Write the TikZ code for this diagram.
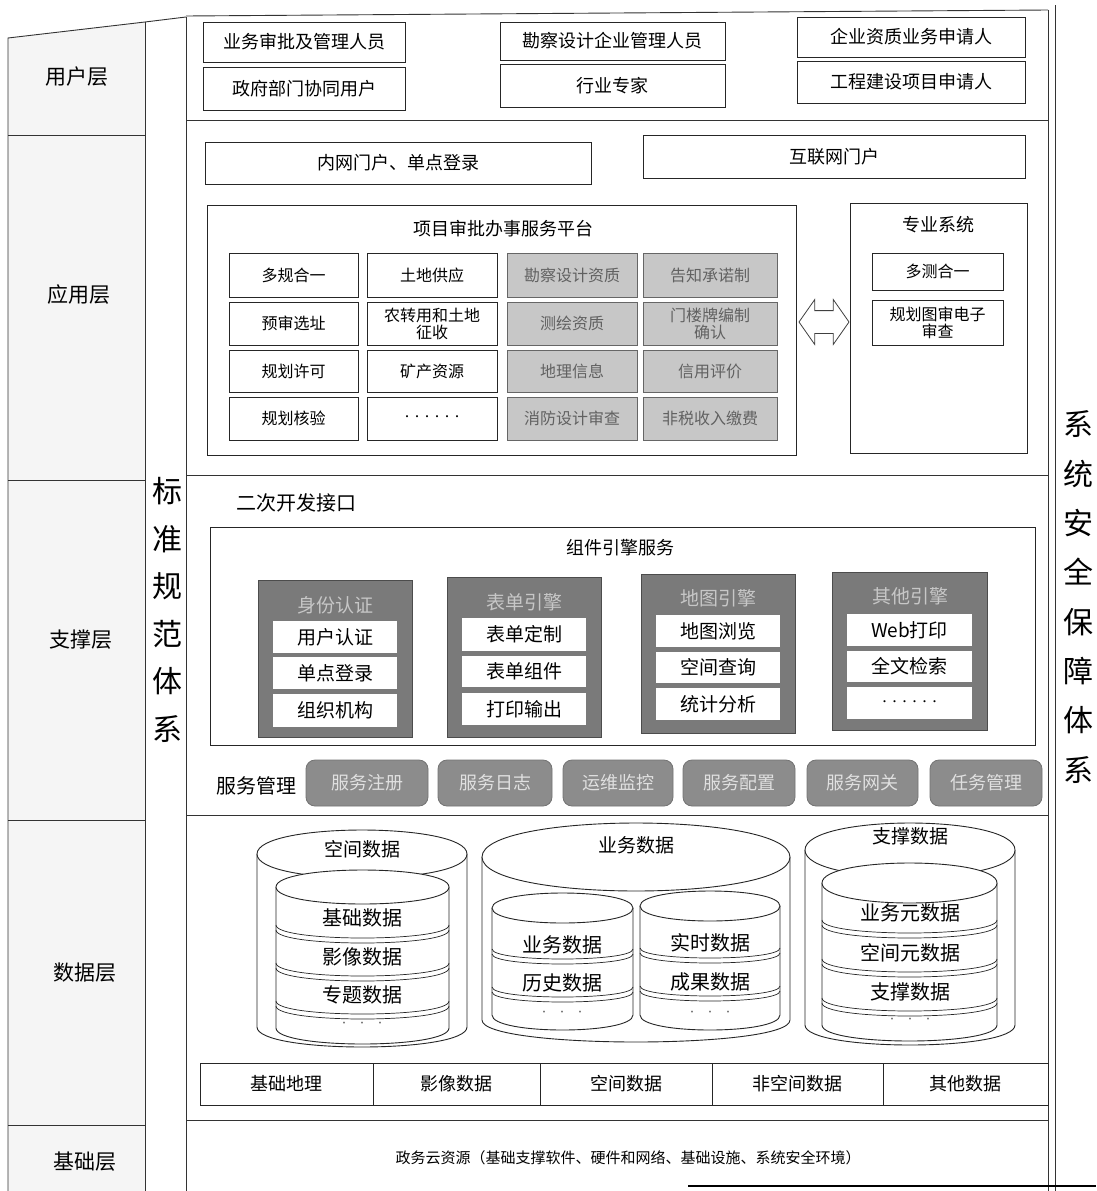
\documentclass[tikz,border=0pt]{standalone}
\usepackage{fontspec}
\setmainfont{Noto Sans CJK SC}
\usetikzlibrary{shapes.arrows}
\newcommand\fs[2]{\fontsize{#1}{#2}\selectfont}
% box by corners: [style]{name}{x1}{y1}{x2}{y2}{text}
\newcommand\bx[7][]{\node[bx,#1,minimum width={#5-#3},minimum height={#6-#4}] (#2) at ({(#3+#5)/2},{(#4+#6)/2}) {#7};}
% cylinder: {x1}{x2}{ytop}{ybot}{ry top}{ry bottom}
\newcommand\cyl[6]{%
  \fill[white] (#1,#3) -- (#1,#4) .. controls (#1,{#4+1.333*#6}) and (#2,{#4+1.333*#6}) .. (#2,#4) -- (#2,#3) -- cycle;
  \draw[cylline] (#1,#3) -- (#1,#4) .. controls (#1,{#4+1.333*#6}) and (#2,{#4+1.333*#6}) .. (#2,#4) -- (#2,#3);
  \draw[cylline,fill=white] (#1,#3) .. controls (#1,{#3-1.333*#5}) and (#2,{#3-1.333*#5}) .. (#2,#3)
     .. controls (#2,{#3+1.333*#5}) and (#1,{#3+1.333*#5}) .. (#1,#3) -- cycle;}
% band: {x1}{x2}{y}{ry}
\newcommand\band[4]{%
  \draw[cylline,line width=0.7pt] (#1,#3) .. controls (#1,{#3+1.333*#4}) and (#2,{#3+1.333*#4}) .. (#2,#3);
  \draw[cylline,line width=0.7pt] (#1,{#3+5}) .. controls (#1,{#3+5+1.333*#4}) and (#2,{#3+5+1.333*#4}) .. (#2,{#3+5});}
\begin{document}
\begin{tikzpicture}[x=1pt,y=-1pt,
  bx/.style={draw=black!85, line width=0.9pt, fill=white, inner sep=1pt, outer sep=0pt, align=center, text=black},
  gcell/.style={fill=black!22, draw=black!60, text=black!62},
  engbox/.style={draw=black!70, line width=0.9pt, fill=black!52, inner sep=0pt, outer sep=0pt},
  engin/.style={fill=white, draw=none, inner sep=0pt, outer sep=0pt, text=black, font=\fs{19}{21}},
  btn/.style={fill=black!45, draw=black!55, line width=0.8pt, rounded corners=9pt, text=black!12, inner sep=0pt, outer sep=0pt, font=\fs{18}{20}},
  lbl/.style={inner sep=0pt, outer sep=0pt, text=black, align=center},
  frame/.style={line width=0.9pt, draw=black!80},
  cylline/.style={line width=0.9pt, draw=black!85},
]
\useasboundingbox (0,0) rectangle (1096,1191);
\fill[white] (0,0) rectangle (1096,1191);

% ---------- left label column ----------
\fill[black!4] (8,38) -- (145,22) -- (145,1191) -- (8,1191) -- cycle;
\draw[frame] (8,1191) -- (8,38) -- (145,22) -- (186,17);
\draw[frame] (145,22) -- (145,1191);
\draw[frame] (8,135) -- (145,135);
\draw[frame] (8,480) -- (145,480);
\draw[frame] (8,820) -- (145,820);
\draw[frame] (8,1125) -- (145,1125);
\node[lbl,font=\fs{21}{23}] (lUser) at (77,77) {用户层};
\node[lbl,font=\fs{21}{23}] (lApp) at (79,295) {应用层};
\node[lbl,font=\fs{21}{23}] (lSup) at (81,640) {支撑层};
\node[lbl,font=\fs{21}{23}] (lData) at (85,973) {数据层};
\node[lbl,font=\fs{21}{23}] (lBase) at (85,1162) {基础层};
\node[lbl,font=\fs{30}{47.5}] (std) at (167,610) {标\\准\\规\\范\\体\\系};

% ---------- content frame ----------
\draw[frame] (186,17) -- (186,1191);
\draw[frame] (186,16) -- (1048,10);
\draw[frame] (1048,10) -- (1048,1191);
\draw[frame] (1055,5) -- (1055,1191);
\draw[frame] (186,120) -- (1048,120);
\draw[frame] (186,475) -- (1048,475);
\draw[frame] (186,815) -- (1048,815);
\draw[frame] (186,1120) -- (1048,1120);
\draw[line width=1.4pt] (688,1186) -- (1096,1186);
\node[lbl,font=\fs{30}{49.3}] (sec) at (1078,597) {系\\统\\安\\全\\保\\障\\体\\系};

% ---------- user layer ----------
\bx[font=\fs{18}{20}]{u1}{203}{22}{405}{62}{业务审批及管理人员}
\bx[font=\fs{18}{20}]{u2}{203}{67}{405}{110}{政府部门协同用户}
\bx[font=\fs{18}{20}]{u3}{500}{22}{725}{60}{勘察设计企业管理人员}
\bx[font=\fs{18}{20}]{u4}{500}{64}{725}{107}{行业专家}
\bx[font=\fs{18}{20}]{u5}{797}{17}{1025}{57}{企业资质业务申请人}
\bx[font=\fs{18}{20}]{u6}{797}{61}{1025}{103}{工程建设项目申请人}

% ---------- application layer ----------
\bx[font=\fs{18}{20}]{pin}{205}{142}{591}{184}{内网门户、单点登录}
\bx[font=\fs{18}{20}]{pnet}{643}{135}{1025}{178}{互联网门户}
\bx{plat}{207}{205}{796}{455}{}
\node[lbl,font=\fs{18}{20}] (platT) at (503,229) {项目审批办事服务平台};
\bx[font=\fs{16}{18}]{c11}{229}{253}{358}{297}{多规合一}
\bx[font=\fs{16}{18}]{c21}{229}{302}{358}{345}{预审选址}
\bx[font=\fs{16}{18}]{c31}{229}{350}{358}{392}{规划许可}
\bx[font=\fs{16}{18}]{c41}{229}{397}{358}{440}{规划核验}
\bx[font=\fs{16}{18}]{c12}{367}{253}{497}{297}{土地供应}
\bx[font=\fs{16}{17}]{c22}{367}{302}{497}{345}{农转用和土地\\征收}
\bx[font=\fs{16}{18}]{c32}{367}{350}{497}{392}{矿产资源}
\bx[font=\fs{10}{12}]{c42}{367}{397}{497}{440}{······}
\bx[gcell,font=\fs{16}{18}]{c13}{507}{253}{637}{297}{勘察设计资质}
\bx[gcell,font=\fs{16}{18}]{c23}{507}{302}{637}{345}{测绘资质}
\bx[gcell,font=\fs{16}{18}]{c33}{507}{350}{637}{392}{地理信息}
\bx[gcell,font=\fs{16}{18}]{c43}{507}{397}{637}{440}{消防设计审查}
\bx[gcell,font=\fs{16}{18}]{c14}{643}{253}{777}{297}{告知承诺制}
\bx[gcell,font=\fs{16}{17}]{c24}{643}{302}{777}{345}{门楼牌编制\\确认}
\bx[gcell,font=\fs{16}{18}]{c34}{643}{350}{777}{392}{信用评价}
\bx[gcell,font=\fs{16}{18}]{c44}{643}{397}{777}{440}{非税收入缴费}
\bx{spec}{850}{203}{1027}{453}{}
\node[lbl,font=\fs{18}{20}] (specT) at (938,225) {专业系统};
\bx[font=\fs{16}{18}]{s1}{872}{253}{1003}{290}{多测合一}
\bx[font=\fs{16}{17}]{s2}{872}{300}{1003}{345}{规划图审电子\\审查}
\node[draw=black!75, line width=0.8pt, fill=white, double arrow, double arrow head extend=11pt,
      double arrow tip angle=110, double arrow head indent=0pt, minimum height=50pt,
      inner sep=0pt, outer sep=0pt] (dbl) at (824,322) {\rule{0pt}{22pt}};

% ---------- support layer ----------
\node[lbl,font=\fs{20}{22}] (sdk) at (296,503) {二次开发接口};
\bx{comp}{210}{527}{1035}{745}{}
\node[lbl,font=\fs{18}{20}] (compT) at (620,548) {组件引擎服务};
% engine 1
\bx[engbox]{e1}{258}{580}{412}{737}{}
\node[lbl,text=black!22,font=\fs{19}{21}] (e1T) at (335,605) {身份认证};
\bx[engin]{e1a}{273}{621}{397}{653}{用户认证}
\bx[engin]{e1b}{273}{657}{397}{689}{单点登录}
\bx[engin]{e1c}{273}{694}{397}{727}{组织机构}
% engine 2
\bx[engbox]{e2}{447}{577}{601}{737}{}
\node[lbl,text=black!22,font=\fs{19}{21}] (e2T) at (524,602) {表单引擎};
\bx[engin]{e2a}{462}{618}{586}{651}{表单定制}
\bx[engin]{e2b}{462}{656}{586}{687}{表单组件}
\bx[engin]{e2c}{462}{693}{586}{725}{打印输出}
% engine 3
\bx[engbox]{e3}{641}{574}{795}{733}{}
\node[lbl,text=black!22,font=\fs{19}{21}] (e3T) at (718,598) {地图引擎};
\bx[engin]{e3a}{656}{615}{780}{647}{地图浏览}
\bx[engin]{e3b}{656}{652}{780}{683}{空间查询}
\bx[engin]{e3c}{656}{688}{780}{720}{统计分析}
% engine 4
\bx[engbox]{e4}{832}{572}{987}{730}{}
\node[lbl,text=black!22,font=\fs{19}{21}] (e4T) at (910,596) {其他引擎};
\bx[engin]{e4a}{847}{614}{972}{646}{Web打印}
\bx[engin]{e4b}{847}{651}{972}{682}{全文检索}
\bx[engin,font=\fs{10}{12}]{e4c}{847}{687}{972}{719}{······}
% service management
\node[lbl,font=\fs{20}{22}] (smT) at (256,786) {服务管理};
\bx[btn]{b1}{306}{760}{428}{806}{服务注册}
\bx[btn]{b2}{438}{760}{552}{806}{服务日志}
\bx[btn]{b3}{563}{760}{673}{806}{运维监控}
\bx[btn]{b4}{683}{760}{795}{806}{服务配置}
\bx[btn]{b5}{807}{760}{918}{806}{服务网关}
\bx[btn]{b6}{930}{760}{1042}{806}{任务管理}

% ---------- data layer ----------
% spatial
\cyl{257}{467}{854}{1027}{24}{20}
\node[lbl,font=\fs{19}{21}] (dSp) at (362,849) {空间数据};
\cyl{276}{449}{887}{1028}{17}{16}
\band{276}{449}{925}{13}
\band{276}{449}{963}{13}
\band{276}{449}{1001}{13}
\node[lbl,font=\fs{20}{22}] (dSp1) at (362,918) {基础数据};
\node[lbl,font=\fs{20}{22}] (dSp2) at (362,957) {影像数据};
\node[lbl,font=\fs{20}{22}] (dSp3) at (362,995) {专题数据};
\node[lbl,font=\fs{9}{10},text=black!60] (dSp4) at (362,1024) {·\quad·\quad·};
% business
\cyl{482}{790}{857}{1020}{34}{22}
\node[lbl,font=\fs{19}{21}] (dBz) at (636,845) {业务数据};
\cyl{492}{633}{908}{1015}{15}{15}
\band{492}{633}{949}{10}
\band{492}{633}{987}{10}
\node[lbl,font=\fs{20}{22}] (dBz1) at (562,945) {业务数据};
\node[lbl,font=\fs{20}{22}] (dBz2) at (562,983) {历史数据};
\node[lbl,font=\fs{9}{10},text=black!60] (dBz3) at (562,1013) {·\quad·\quad·};
\cyl{640}{780}{906}{1015}{15}{15}
\band{640}{780}{948}{10}
\band{640}{780}{986}{10}
\node[lbl,font=\fs{20}{22}] (dBz4) at (710,943) {实时数据};
\node[lbl,font=\fs{20}{22}] (dBz5) at (710,982) {成果数据};
\node[lbl,font=\fs{9}{10},text=black!60] (dBz6) at (710,1013) {·\quad·\quad·};
% support data
\cyl{805}{1015}{850}{1025}{27}{20}
\node[lbl,font=\fs{19}{21}] (dSu) at (910,836) {支撑数据};
\cyl{822}{997}{883}{1025}{20}{16}
\band{822}{997}{920}{13}
\band{822}{997}{959}{13}
\band{822}{997}{998}{13}
\node[lbl,font=\fs{20}{22}] (dSu1) at (910,913) {业务元数据};
\node[lbl,font=\fs{20}{22}] (dSu2) at (910,953) {空间元数据};
\node[lbl,font=\fs{20}{22}] (dSu3) at (910,992) {支撑数据};
\node[lbl,font=\fs{9}{10},text=black!60] (dSu4) at (910,1020) {·\quad·\quad·};
% bottom row
\bx[font=\fs{18}{20}]{r1}{200}{1063}{373}{1105}{基础地理}
\bx[font=\fs{18}{20}]{r2}{373}{1063}{540}{1105}{影像数据}
\bx[font=\fs{18}{20}]{r3}{540}{1063}{712}{1105}{空间数据}
\bx[font=\fs{18}{20}]{r4}{712}{1063}{883}{1105}{非空间数据}
\bx[font=\fs{18}{20}]{r5}{883}{1063}{1048}{1105}{其他数据}

% ---------- base layer ----------
\node[lbl,font=\fs{15}{17}] (base) at (628,1158) {政务云资源（基础支撑软件、硬件和网络、基础设施、系统安全环境）};
\end{tikzpicture}
\end{document}
